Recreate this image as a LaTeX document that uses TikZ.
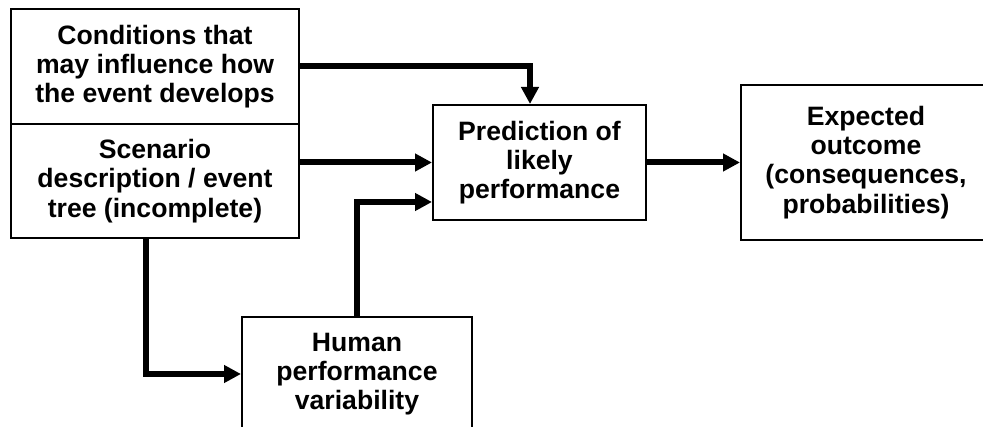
\documentclass[tikz,border=0pt]{standalone}
\usepackage{fontspec}
\setmainfont{Liberation Sans}
\usetikzlibrary{arrows.meta}
\begin{document}
\begin{tikzpicture}[x=1pt,y=-1pt,
  box/.style={draw,line width=2pt,fill=white,align=center,inner sep=0pt,
    font=\fontsize{26.6}{29.2}\selectfont\bfseries},
  conn/.style={line width=6pt,line join=miter,-{Triangle[length=17pt,width=17pt]}}]
\useasboundingbox (0,0) rectangle (983,427);
\node[box,minimum width=288pt,minimum height=115pt] (cond) at (155,66.5)
  {Conditions that\\may influence how\\the event develops};
\node[box,minimum width=288pt,minimum height=114pt] (scen) at (155,181)
  {Scenario\\description / event\\tree (incomplete)};
\node[box,minimum width=213pt,minimum height=115pt] (pred) at (539.5,162.5)
  {Prediction of\\likely\\performance};
\node[box,minimum width=250pt,minimum height=155pt] (exp) at (866,162.5)
  {Expected\\outcome\\(consequences,\\probabilities)};
\node[box,minimum width=230pt,minimum height=114pt] (human) at (357,374)
  {Human\\performance\\variability};
\draw[conn] (cond.east) -| ([xshift=-9.5pt]pred.north);
\draw[conn] (scen.east |- pred.west) -- (pred.west);
\draw[conn] (pred.east) -- (exp.west);
\draw[conn] ([xshift=-9pt]scen.south) |- (human.west);
\draw[conn] (human.north) |- ([yshift=-39.5pt]pred.west);
\end{tikzpicture}
\end{document}
